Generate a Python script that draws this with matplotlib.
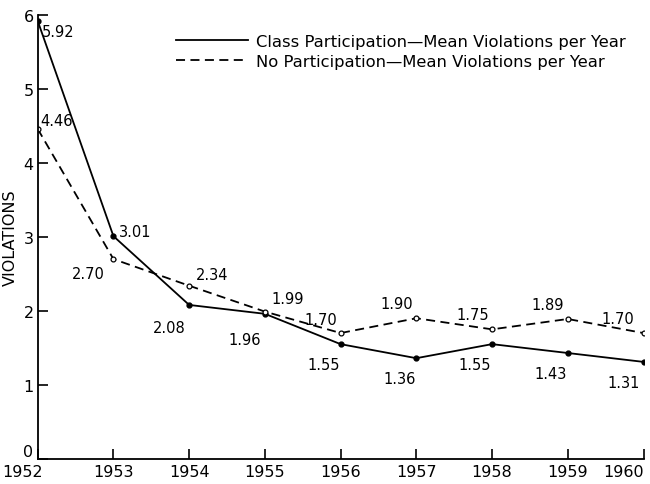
import matplotlib.pyplot as plt
from matplotlib.transforms import ScaledTranslation

years = [1952, 1953, 1954, 1955, 1956, 1957, 1958, 1959, 1960]
class_part = [5.92, 3.01, 2.08, 1.96, 1.55, 1.36, 1.55, 1.43, 1.31]
no_part = [4.46, 2.70, 2.34, 1.99, 1.70, 1.90, 1.75, 1.89, 1.70]

# label offsets (points) for each value label
class_offsets = [(3, -13), (4, -2), (-26, -22), (-26, -24), (-24, -20), (-24, -20), (-24, -20), (-24, -20), (-26, -20)]
no_offsets = [(2, 1), (-30, -16), (5, 3), (5, 4), (-26, 4), (-26, 5), (-26, 5), (-26, 5), (-30, 5)]

plt.rcParams['font.family'] = ['DejaVu Sans']

fig = plt.figure(figsize=(6.5, 4.85), dpi=100)
ax = fig.add_axes([0.058, 0.052, 0.932, 0.915])

ax.plot(years, class_part, color='black', lw=1.3, marker='o', ms=3.5,
        label='Class Participation\u2014Mean Violations per Year')
ax.plot(years, no_part, color='black', lw=1.3, ls=(0, (5, 3)), marker='o', ms=3.5,
        mfc='white', mew=0.9, label='No Participation\u2014Mean Violations per Year')

for x, y, off in zip(years, class_part, class_offsets):
    ax.annotate(f'{y:.2f}', (x, y), xytext=off, textcoords='offset points',
                fontsize=10.5, va='bottom', ha='left')
for x, y, off in zip(years, no_part, no_offsets):
    ax.annotate(f'{y:.2f}', (x, y), xytext=off, textcoords='offset points',
                fontsize=10.5, va='bottom', ha='left')

ax.set_xlim(1952, 1960)
ax.set_ylim(0, 6)
ax.set_xticks(years)
ax.set_yticks(range(0, 7))
ax.tick_params(direction='in', length=7, width=1.2, labelsize=11.5)
ax.tick_params(axis='x', pad=4)
ax.tick_params(axis='y', pad=3)
xlabels = ax.get_xticklabels()
xlabels[0].set_transform(xlabels[0].get_transform() + ScaledTranslation(-0.15, 0, fig.dpi_scale_trans))
xlabels[-1].set_horizontalalignment('right')
ylabels = ax.get_yticklabels()
ylabels[0].set_verticalalignment('bottom')
ax.spines['top'].set_visible(False)
ax.spines['right'].set_visible(False)
ax.spines['left'].set_linewidth(1.3)
ax.spines['bottom'].set_linewidth(1.3)
ax.set_ylabel('VIOLATIONS', fontsize=11.5, labelpad=4)

leg = ax.legend(loc='upper right', frameon=False, fontsize=11.8, handlelength=4.4,
                handletextpad=0.5, bbox_to_anchor=(0.995, 0.99), labelspacing=0.3)
for h in leg.legend_handles:
    h.set_marker('')

fig.savefig('out.png', dpi=100)
